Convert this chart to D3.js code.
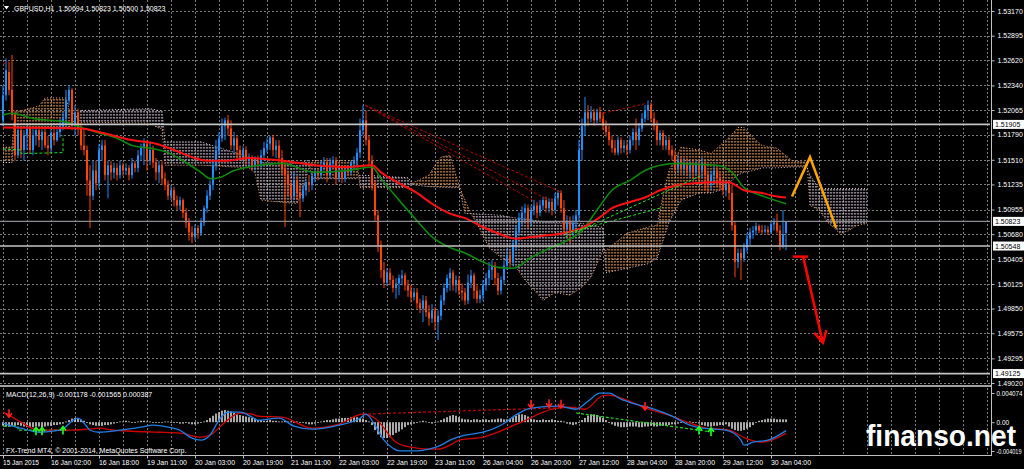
<!DOCTYPE html>
<html><head><meta charset="utf-8">
<script src="https://cdn.jsdelivr.net/npm/d3@7/dist/d3.min.js"></script>
<style>
html,body{margin:0;padding:0;background:#000;overflow:hidden;}
svg{display:block;}
</style></head><body>
<svg id="chart" width="1024" height="469"></svg>
<script>
// ---------------- DATA ----------------
const symbolHeader = "GBPUSD,H1  1.50694 1.50823 1.50500 1.50823";
const macdHeader = "MACD(12,26,9) -0.001178 -0.001565 0.000387";
const copyright = "FX-Trend MT4, \u00A9 2001-2014, MetaQuotes Software Corp.";
const watermark = "finanso.net";

const timeLabels = ["15 Jan 2015","16 Jan 02:00","16 Jan 18:00","19 Jan 11:00","20 Jan 03:00","20 Jan 19:00","21 Jan 11:00","22 Jan 03:00","22 Jan 19:00","23 Jan 11:00","26 Jan 04:00","26 Jan 20:00","27 Jan 12:00","28 Jan 04:00","28 Jan 20:00","29 Jan 12:00","30 Jan 04:00"];
const timeLabelBars = [0,16,32,48,64,80,96,112,128,144,160,176,192,208,224,240,256];
const priceTicks = [1.53170,1.52895,1.52620,1.52340,1.52065,1.51790,1.51510,1.51235,1.50955,1.50680,1.50405,1.50125,1.49850,1.49575,1.49295,1.49020];
const levelPrices = [1.51905,1.50548,1.49125];
const bidPrice = 1.50823;
const macdTicks = [0.004074,0,-0.004019];
const macdTickLabels = ["0.004074","0.00","-0.004019"];

const opens = [1.5195,1.5223,1.5249,1.5229,1.5201,1.5156,1.5184,1.5162,1.5178,1.5186,
1.5162,1.5178,1.5184,1.5173,1.5182,1.5167,1.5164,1.5181,1.5173,1.5182,
1.5189,1.5197,1.5217,1.5229,1.5189,1.5204,1.5186,1.5167,1.5162,1.5128,
1.5111,1.5139,1.5125,1.5162,1.5167,1.5134,1.5145,1.5137,1.5142,1.5134,
1.5145,1.5139,1.5142,1.5134,1.5147,1.5142,1.5156,1.5164,1.5169,1.5150,
1.5162,1.5148,1.5137,1.5145,1.5130,1.5123,1.5111,1.5117,1.5106,1.5100,
1.5106,1.5092,1.5081,1.5070,1.5065,1.5075,1.5069,1.5081,1.5097,1.5111,
1.5123,1.5145,1.5162,1.5175,1.5189,1.5195,1.5186,1.5167,1.5175,1.5162,
1.5156,1.5162,1.5150,1.5153,1.5145,1.5150,1.5147,1.5156,1.5164,1.5169,
1.5176,1.5162,1.5167,1.5153,1.5142,1.5134,1.5123,1.5111,1.5128,1.5115,
1.5108,1.5117,1.5126,1.5123,1.5133,1.5137,1.5134,1.5145,1.5148,1.5134,
1.5147,1.5150,1.5130,1.5137,1.5130,1.5139,1.5137,1.5147,1.5150,1.5159,
1.5184,1.5195,1.5173,1.5150,1.5123,1.5089,1.5056,1.5028,1.5014,1.5025,
1.5017,1.5008,1.5013,1.5019,1.5022,1.5011,1.5005,1.4998,1.5003,1.4991,
1.4985,1.4994,1.4981,1.4974,1.4983,1.4970,1.4977,1.4994,1.5008,1.5019,
1.5025,1.5011,1.5017,1.5005,1.5003,1.4994,1.5014,1.5022,1.5005,1.4996,
1.5000,1.5011,1.5019,1.5028,1.5033,1.5019,1.5005,1.5017,1.5033,1.5044,
1.5037,1.5056,1.5072,1.5086,1.5092,1.5097,1.5081,1.5095,1.5100,1.5092,
1.5100,1.5106,1.5097,1.5104,1.5095,1.5108,1.5114,1.5097,1.5075,1.5083,
1.5072,1.5081,1.5089,1.5162,1.5189,1.5204,1.5197,1.5204,1.5195,1.5204,
1.5197,1.5189,1.5182,1.5173,1.5164,1.5159,1.5173,1.5164,1.5167,1.5162,
1.5173,1.5182,1.5173,1.5186,1.5197,1.5206,1.5212,1.5197,1.5189,1.5173,
1.5181,1.5167,1.5173,1.5162,1.5156,1.5142,1.5150,1.5142,1.5147,1.5139,
1.5145,1.5137,1.5145,1.5139,1.5147,1.5134,1.5123,1.5134,1.5139,1.5130,
1.5123,1.5117,1.5123,1.5114,1.5078,1.5037,1.5047,1.5041,1.5053,1.5063,
1.5070,1.5072,1.5077,1.5072,1.5071,1.5073,1.5070,1.5079,1.5081,1.5072,
1.5056,1.50694];

const closes = [1.5223,1.5251,1.5229,1.5201,1.5156,1.5184,1.5162,1.5178,1.5186,1.5162,
1.5178,1.5184,1.5173,1.5182,1.5167,1.5164,1.5181,1.5173,1.5182,1.5189,
1.5197,1.5217,1.5229,1.5189,1.5204,1.5186,1.5167,1.5162,1.5128,1.5111,
1.5139,1.5125,1.5162,1.5167,1.5134,1.5145,1.5137,1.5142,1.5134,1.5145,
1.5139,1.5142,1.5134,1.5147,1.5142,1.5156,1.5164,1.5169,1.5150,1.5162,
1.5148,1.5137,1.5145,1.5130,1.5123,1.5111,1.5117,1.5106,1.5100,1.5106,
1.5092,1.5081,1.5070,1.5065,1.5075,1.5069,1.5081,1.5097,1.5111,1.5123,
1.5145,1.5162,1.5175,1.5189,1.5195,1.5186,1.5167,1.5175,1.5162,1.5156,
1.5162,1.5150,1.5153,1.5145,1.5150,1.5147,1.5156,1.5164,1.5169,1.5176,
1.5162,1.5167,1.5153,1.5142,1.5134,1.5123,1.5111,1.5128,1.5115,1.5108,
1.5117,1.5126,1.5123,1.5133,1.5137,1.5134,1.5145,1.5148,1.5134,1.5147,
1.5150,1.5130,1.5137,1.5130,1.5139,1.5137,1.5147,1.5150,1.5159,1.5184,
1.5195,1.5173,1.5150,1.5123,1.5089,1.5056,1.5028,1.5014,1.5025,1.5017,
1.5008,1.5013,1.5019,1.5022,1.5011,1.5005,1.4998,1.5003,1.4991,1.4985,
1.4994,1.4981,1.4974,1.4983,1.4970,1.4977,1.4994,1.5008,1.5019,1.5025,
1.5011,1.5017,1.5005,1.5003,1.4994,1.5014,1.5022,1.5005,1.4996,1.5000,
1.5011,1.5019,1.5028,1.5033,1.5019,1.5005,1.5017,1.5033,1.5044,1.5037,
1.5056,1.5072,1.5086,1.5092,1.5097,1.5081,1.5095,1.5100,1.5092,1.5100,
1.5106,1.5097,1.5104,1.5095,1.5108,1.5114,1.5097,1.5075,1.5083,1.5072,
1.5081,1.5089,1.5162,1.5189,1.5204,1.5197,1.5204,1.5195,1.5204,1.5197,
1.5189,1.5182,1.5173,1.5164,1.5159,1.5173,1.5164,1.5167,1.5162,1.5173,
1.5182,1.5173,1.5186,1.5197,1.5206,1.5212,1.5197,1.5189,1.5173,1.5181,
1.5167,1.5173,1.5162,1.5156,1.5142,1.5150,1.5142,1.5147,1.5139,1.5145,
1.5137,1.5145,1.5139,1.5147,1.5134,1.5123,1.5134,1.5139,1.5130,1.5123,
1.5117,1.5123,1.5114,1.5078,1.5037,1.5047,1.5041,1.5053,1.5063,1.5070,
1.5072,1.5077,1.5072,1.5071,1.5073,1.5070,1.5079,1.5081,1.5072,1.5056,
1.5068,1.50823];

const highs = [1.5234,1.5264,1.5260,1.5268,1.5206,1.5189,1.5187,1.5184,1.5189,1.5189,
1.5186,1.5187,1.5186,1.5185,1.5186,1.5178,1.5186,1.5186,1.5186,1.5197,
1.5204,1.5229,1.5234,1.5231,1.5212,1.5208,1.5193,1.5184,1.5167,1.5145,
1.5150,1.5150,1.5169,1.5173,1.5173,1.5150,1.5150,1.5148,1.5147,1.5150,
1.5148,1.5147,1.5145,1.5153,1.5150,1.5162,1.5169,1.5175,1.5173,1.5171,
1.5167,1.5153,1.5150,1.5150,1.5137,1.5128,1.5123,1.5121,1.5111,1.5110,
1.5108,1.5097,1.5086,1.5077,1.5079,1.5078,1.5086,1.5100,1.5117,1.5128,
1.5150,1.5173,1.5182,1.5197,1.5198,1.5201,1.5195,1.5182,1.5178,1.5167,
1.5166,1.5166,1.5158,1.5156,1.5155,1.5156,1.5162,1.5171,1.5175,1.5178,
1.5179,1.5173,1.5173,1.5162,1.5150,1.5139,1.5128,1.5137,1.5133,1.5123,
1.5123,1.5130,1.5134,1.5137,1.5142,1.5142,1.5150,1.5154,1.5153,1.5153,
1.5155,1.5154,1.5142,1.5142,1.5144,1.5145,1.5150,1.5155,1.5164,1.5197,
1.5212,1.5206,1.5178,1.5156,1.5128,1.5095,1.5061,1.5037,1.5030,1.5030,
1.5022,1.5019,1.5023,1.5028,1.5025,1.5017,1.5011,1.5008,1.5008,1.4996,
1.5000,1.4999,1.4989,1.4990,1.4987,1.4983,1.5000,1.5013,1.5023,1.5030,
1.5028,1.5022,1.5021,1.5013,1.5008,1.5023,1.5028,1.5025,1.5011,1.5006,
1.5017,1.5025,1.5037,1.5039,1.5037,1.5025,1.5021,1.5039,1.5052,1.5050,
1.5061,1.5078,1.5092,1.5099,1.5102,1.5101,1.5100,1.5106,1.5104,1.5106,
1.5110,1.5110,1.5108,1.5108,1.5114,1.5117,1.5117,1.5106,1.5089,1.5088,
1.5089,1.5095,1.5173,1.5197,1.5221,1.5212,1.5211,1.5208,1.5208,1.5210,
1.5204,1.5195,1.5189,1.5178,1.5173,1.5177,1.5176,1.5173,1.5173,1.5178,
1.5186,1.5197,1.5192,1.5203,1.5212,1.5217,1.5215,1.5204,1.5195,1.5184,
1.5184,1.5178,1.5177,1.5167,1.5162,1.5156,1.5155,1.5153,1.5153,1.5150,
1.5150,1.5150,1.5150,1.5153,1.5150,1.5139,1.5139,1.5145,1.5145,1.5137,
1.5130,1.5128,1.5128,1.5123,1.5083,1.5052,1.5052,1.5058,1.5069,1.5075,
1.5077,1.5081,1.5079,1.5078,1.5078,1.5077,1.5083,1.5086,1.5091,1.5078,
1.5095,1.50823];

const lows = [1.5189,1.5217,1.5223,1.5195,1.5150,1.5153,1.5153,1.5150,1.5162,1.5158,
1.5156,1.5167,1.5165,1.5162,1.5164,1.5156,1.5159,1.5167,1.5171,1.5176,
1.5184,1.5189,1.5212,1.5184,1.5178,1.5178,1.5162,1.5156,1.5111,1.5075,
1.5106,1.5117,1.5119,1.5150,1.5128,1.5108,1.5128,1.5130,1.5128,1.5130,
1.5133,1.5134,1.5128,1.5130,1.5137,1.5137,1.5150,1.5145,1.5139,1.5145,
1.5142,1.5128,1.5125,1.5123,1.5117,1.5106,1.5106,1.5099,1.5095,1.5095,
1.5086,1.5075,1.5061,1.5058,1.5061,1.5063,1.5066,1.5077,1.5092,1.5106,
1.5117,1.5139,1.5156,1.5171,1.5173,1.5178,1.5162,1.5159,1.5153,1.5150,
1.5150,1.5145,1.5143,1.5139,1.5139,1.5142,1.5142,1.5150,1.5159,1.5162,
1.5155,1.5153,1.5145,1.5134,1.5076,1.5111,1.5106,1.5106,1.5106,1.5087,
1.5104,1.5111,1.5115,1.5117,1.5126,1.5128,1.5130,1.5139,1.5126,1.5130,
1.5142,1.5123,1.5126,1.5125,1.5126,1.5133,1.5134,1.5142,1.5145,1.5153,
1.5178,1.5167,1.5145,1.5117,1.5083,1.5048,1.5019,1.5008,1.5010,1.5011,
1.5003,1.4996,1.5000,1.5011,1.5005,1.4998,1.4992,1.4994,1.4985,1.4980,
1.4970,1.4976,1.4966,1.4969,1.4961,1.4950,1.4972,1.4989,1.5003,1.5005,
1.5005,1.5003,1.5000,1.4994,1.4989,1.4990,1.5008,1.4996,1.4991,1.4991,
1.4994,1.5005,1.5011,1.5017,1.5011,1.5000,1.5001,1.5012,1.5028,1.5030,
1.5032,1.5050,1.5067,1.5078,1.5083,1.5075,1.5077,1.5089,1.5086,1.5088,
1.5095,1.5092,1.5092,1.5089,1.5092,1.5100,1.5092,1.5070,1.5067,1.5058,
1.5067,1.5075,1.5083,1.5150,1.5178,1.5189,1.5193,1.5189,1.5192,1.5193,
1.5184,1.5177,1.5167,1.5159,1.5156,1.5156,1.5158,1.5159,1.5156,1.5158,
1.5167,1.5162,1.5167,1.5182,1.5193,1.5195,1.5193,1.5184,1.5167,1.5167,
1.5162,1.5162,1.5156,1.5150,1.5137,1.5136,1.5135,1.5134,1.5133,1.5131,
1.5130,1.5133,1.5128,1.5130,1.5117,1.5115,1.5117,1.5123,1.5121,1.5117,
1.5111,1.5110,1.5106,1.5072,1.5020,1.5030,1.5017,1.5037,1.5048,1.5056,
1.5063,1.5067,1.5069,1.5068,1.5069,1.5067,1.5068,1.5072,1.5069,1.5050,
1.5052,1.50500];

// moving averages: [bar, price]
const maRed = [[0,1.5187],[26,1.5186],[32,1.5182],[43,1.5173],[51,1.5169],[57,1.5162],[63,1.5154],[68,1.5150],[75,1.5150],[82,1.5153],[93,1.5150],[104,1.5145],[115,1.5143],[123,1.5145],[126,1.5137],[132,1.5125],[138,1.5114],[143,1.5102],[149,1.5091],[154,1.5086],[160,1.5076],[165,1.5069],[171,1.5063],[176,1.5065],[182,1.5067],[188,1.5070],[193,1.5075],[199,1.5087],[203,1.5097],[209,1.5104],[214,1.5109],[219,1.5117],[225,1.5123],[231,1.5125],[236,1.5126],[242,1.5126],[244,1.5123],[247,1.5117],[253,1.5114],[258,1.5110],[261,1.5109]];
const maGreen = [[0,1.5201],[3,1.5203],[10,1.5197],[21,1.5193],[27,1.5186],[32,1.5181],[38,1.5175],[43,1.5167],[49,1.5164],[55,1.5159],[60,1.5150],[66,1.5137],[69,1.5130],[72,1.5131],[77,1.5139],[82,1.5143],[93,1.5147],[104,1.5137],[115,1.5139],[123,1.5143],[126,1.5130],[132,1.5106],[138,1.5083],[143,1.5065],[149,1.5053],[154,1.5047],[160,1.5037],[165,1.5031],[170,1.5030],[176,1.5042],[182,1.5052],[188,1.5061],[193,1.5072],[198,1.5095],[203,1.5117],[209,1.5128],[214,1.5139],[219,1.5145],[225,1.5147],[231,1.5146],[238,1.5145],[243,1.5137],[247,1.5120],[253,1.5111],[261,1.5102]];

// Ichimoku senkou spans (shifted 26 bars forward): [bar, price]
const spanA = [[0,1.5165],[3,1.5165],[4,1.5204],[12,1.5211],[14,1.5220],[21,1.5220],[22,1.5208],[26,1.5193],[49,1.5192],[52,1.5186],[53,1.5186],[54,1.5145],[66,1.5145],[82,1.5142],[84,1.5136],[86,1.5106],[98,1.5102],[100,1.5117],[101,1.5131],[103,1.5150],[118,1.5150],[119,1.5120],[135,1.5120],[137,1.5126],[142,1.5134],[144,1.5145],[146,1.5154],[149,1.5156],[150,1.5145],[152,1.5123],[153,1.5114],[154,1.5106],[156,1.5091],[158,1.5080],[162,1.5053],[166,1.5042],[171,1.5031],[174,1.5017],[178,1.5002],[180,1.4994],[184,1.5003],[189,1.5000],[193,1.5009],[196,1.5020],[199,1.5042],[200,1.5050],[201,1.5050],[208,1.5069],[215,1.5076],[218,1.5078],[220,1.5111],[222,1.5139],[226,1.5165],[232,1.5162],[236,1.5158],[239,1.5167],[242,1.5176],[245,1.5187],[247,1.5187],[250,1.5176],[253,1.5167],[258,1.5164],[263,1.5150],[268,1.5148],[269,1.5100],[272,1.5095],[275,1.5081],[279,1.5069],[282,1.5072],[284,1.5077],[288,1.5080]];
const spanB = [[0,1.5148],[3,1.5148],[4,1.5187],[22,1.5187],[26,1.5206],[49,1.5208],[52,1.5206],[53,1.5206],[54,1.5171],[66,1.5171],[82,1.5154],[84,1.5153],[86,1.5148],[98,1.5147],[100,1.5148],[101,1.5150],[102,1.5150],[103,1.5130],[118,1.5130],[119,1.5134],[135,1.5131],[137,1.5123],[142,1.5121],[149,1.5120],[152,1.5120],[153,1.5106],[154,1.5091],[156,1.5091],[162,1.5090],[166,1.5089],[171,1.5086],[174,1.5085],[178,1.5083],[180,1.5082],[184,1.5081],[193,1.5080],[196,1.5078],[199,1.5076],[200,1.5076],[201,1.5025],[208,1.5030],[215,1.5035],[218,1.5041],[220,1.5061],[222,1.5081],[226,1.5106],[232,1.5114],[236,1.5114],[239,1.5117],[242,1.5125],[245,1.5134],[247,1.5137],[250,1.5139],[253,1.5142],[258,1.5142],[263,1.5143],[268,1.5143],[269,1.5134],[272,1.5119],[288,1.5119]];

// drawn objects: [bar, price]
const redTrendLines = [
  [[120.7,1.5212],[186,1.5115]],
  [[120.7,1.5212],[181.3,1.5107]],
  [[120.7,1.5212],[177,1.5105]],
  [[200,1.5203],[214.5,1.5214]],
  [[0,1.5258],[2,1.5261]]
];
const greenDashLines = [
  [[0,1.5163],[6,1.5162],[6,1.5158],[20,1.5159],[20,1.5178]],
  [[187.5,1.5065],[232.5,1.5133]],
  [[187.5,1.5069],[220,1.5098]]
];
const forecastZigzag = [[263,1.5110],[269,1.5154],[277.7,1.5075]];
const forecastArrowBar = [[263.3,1.5043],[268.3,1.5043]];
const forecastArrowShaft = [[266.7,1.5043],[273.3,1.4947]];

// MACD: [bar, value]
const macdMain = [[0,-0.00014],[2,-0.00042],[6,-0.00084],[12,-0.0014],[19,-0.00112],[25,0.00056],[27,-0.00014],[29,-0.00112],[32,-0.0014],[39,-0.00112],[46,-0.0007],[50,-0.00042],[55,-0.0007],[59,-0.00112],[63,-0.00223],[66,-0.00251],[69,-0.00181],[72,0.00028],[75,0.0014],[79,0.0014],[83,0.0007],[85,0.00028],[92,0.00056],[97,-0.00056],[103,-0.00098],[112,-0.00042],[119,0.00056],[121,0.00112],[124,-0.00042],[127,-0.00251],[130,-0.00363],[132,-0.004],[138,-0.004],[142,-0.00377],[146,-0.00321],[149,-0.00251],[154,-0.00181],[160,-0.0014],[166,-0.00042],[172,0.00126],[176,0.00195],[185,0.00223],[191,0.00181],[195,0.00293],[199,0.00405],[202,0.00405],[206,0.00321],[211,0.00251],[217,0.00181],[223,0.00084],[229,-0.00042],[233,-0.00084],[241,-0.00112],[246,-0.00251],[247,-0.0032],[250,-0.00279],[255,-0.00251],[261,-0.001178]];
const macdSignal = [[0,0.0014],[2,0.00098],[6,0],[12,-0.00112],[21,-0.00112],[28,-0.00098],[32,-0.00084],[37,-0.00112],[43,-0.00126],[52,-0.0014],[59,-0.00153],[66,-0.00209],[69,-0.00181],[74,0],[79,0.00126],[83,0.00112],[85,0.00084],[93,0.0007],[103,-0.00084],[112,-0.00028],[120,0.00112],[124,0.00056],[131,-0.00279],[136,-0.00349],[142,-0.00377],[145,-0.00377],[149,-0.00321],[152,-0.00251],[160,-0.00209],[172,-0.00014],[183,0.00181],[188,0.00209],[194,0.00181],[200,0.0037],[202,0.00377],[207,0.00321],[214,0.002],[223,0.00084],[229,-0.00014],[234,-0.00078],[242,-0.00112],[248,-0.00232],[253,-0.00279],[261,-0.001565]];
const macdHist = [-0.0005,-0.0006,-0.0006,-0.0005,-0.0005,-0.0004,
-0.0005,-0.0006,-0.0007,-0.0007,-0.0007,-0.0006,-0.0006,-0.0007,-0.0006,-0.0005,-0.0005,-0.0004,-0.0004,-0.0003,-0.0002,
0.0001,0.0003,0.0005,0.0006,0.0005,0.0004,0.0002,
-0.0001,-0.0003,-0.0004,-0.0005,-0.0005,-0.0005,-0.0004,-0.0004,-0.0003,-0.0002,
-0.0001,0.0001,0.0001,0.0002,0.0001,0,-0.0001,0.0001,0.0002,0.0002,0.0001,0.0001,0,-0.0001,-0.0001,0,0.0001,0.0001,0,-0.0001,-0.0001,-0.0002,-0.0002,-0.0001,-0.0002,
-0.0003,-0.0003,-0.0002,-0.0001,0.0001,
0.0003,0.0006,0.0009,0.0012,0.0014,0.0016,0.0017,0.0016,0.0015,0.0013,0.0011,
0.0010,0.0009,0.0008,0.0007,0.0006,0.0005,
0.0003,0.0003,0.0002,0.0002,0.0003,0.0002,0.0002,
0.0001,0.0001,0.0002,0.0001,0.0001,0,0.0001,0,-0.0001,
-0.0002,-0.0003,-0.0003,-0.0002,-0.0001,
0.0001,0.0002,0.0003,0.0003,0.0004,0.0005,0.0005,0.0006,0.0006,0.0006,0.0007,0.0007,0.0007,0.0006,
0.0005,0.0003,0.0001,
-0.0004,-0.0011,-0.0017,-0.0021,-0.0022,-0.0022,-0.0021,-0.0018,-0.0015,-0.0013,-0.0010,-0.0007,-0.0004,-0.0003,
-0.0002,-0.0001,0.0001,0.0002,0.0001,-0.0001,-0.0002,-0.0001,0.0001,
0.0003,0.0005,0.0007,0.0009,0.0010,0.0009,0.0007,0.0005,
0.0004,0.0004,0.0003,0.0004,0.0004,0.0003,0.0004,0.0004,0.0003,0.0004,0.0004,0.0005,0.0005,0.0004,0.0004,0.0005,
0.0007,0.0009,0.0011,0.0011,0.0010,0.0008,
0.0005,0.0004,0.0003,0.0003,0.0004,0.0003,0.0003,0.0004,0.0003,0.0002,0.0002,0.0001,
-0.0002,-0.0003,-0.0004,-0.0003,-0.0001,
0.0003,0.0006,0.0009,0.0011,0.0011,0.0010,0.0008,0.0006,0.0003,
-0.0001,-0.0003,-0.0005,-0.0006,-0.0007,-0.0007,-0.0007,-0.0006,-0.0006,-0.0006,-0.0007,-0.0007,-0.0006,-0.0006,-0.0005,-0.0006,-0.0006,-0.0005,-0.0005,-0.0004,-0.0004,-0.0003,-0.0003,-0.0002,-0.0001,-0.0001,
0,0.0001,0,-0.0001,-0.0002,
-0.0004,-0.0005,-0.0006,-0.0006,-0.0005,-0.0005,-0.0004,-0.0004,-0.0003,
-0.0006,-0.0009,-0.0011,-0.0012,-0.0012,-0.0011,-0.0009,-0.0007,-0.0004,-0.0001,
0.0002,0.0003,0.0004,0.0005,0.0005,0.0005,0.0004,0.0004,0.0004,0.000387];
const macdSellArrows = [[2,0.0007],[176,0.0020],[182,0.0021],[186,0.0020],[214,0.0017]];
const macdBuyArrows = [[11,-0.0007],[13,-0.0007],[20,-0.0006],[232,-0.0006],[236,-0.0008]];
const macdRedDash = [[120,0.00112],[192,0.0021]];
const macdGreenDash = [[[191,0.00128],[236,-0.00135]],[[0,-0.00056],[5,-0.00056],[5,-0.00112],[20,-0.00112]]];

// ---------------- DRAWING ----------------
const FONT = "'Liberation Sans', Arial, sans-serif";
const svg = d3.select('#chart');
svg.append('rect').attr('width',1024).attr('height',469).attr('fill','#000');
const AXIS_X = 991, MAIN_BOT = 384, MACD_TOP = 388, MACD_BOT = 455;
const x = d3.scaleLinear().domain([0,328]).range([3,987]);
const y = d3.scaleLinear().domain([1.49020,1.53170]).range([383,11]);
const ym = d3.scaleLinear().domain([-0.004019,0.004074]).range([451,393]);
const bull = '#1e90ff', bear = '#ff4500';

const defs = svg.append('defs');
defs.append('clipPath').attr('id','clipMain').append('rect').attr('x',0).attr('y',0).attr('width',AXIS_X-1).attr('height',MAIN_BOT);
defs.append('clipPath').attr('id','clipMacd').append('rect').attr('x',0).attr('y',MACD_TOP).attr('width',AXIS_X-1).attr('height',MACD_BOT-MACD_TOP);
function hatch(id,color){
  const p = defs.append('pattern').attr('id',id).attr('patternUnits','userSpaceOnUse')
    .attr('width',3).attr('height',3).attr('x',x(0)-0.6).attr('y',0);
  p.append('rect').attr('width',1.3).attr('height',1.6).attr('fill',color);
}
hatch('hSandy','#f4a460'); hatch('hThistle','#e0cce0');
const areaBelow = d3.area().x(d=>x(d[0])).y0(MAIN_BOT).y1(d=>y(d[1]));
const areaAbove = d3.area().x(d=>x(d[0])).y0(0).y1(d=>y(d[1]));
defs.append('clipPath').attr('id','belowA').append('path').attr('d',areaBelow(spanA));
defs.append('clipPath').attr('id','aboveB').append('path').attr('d',areaAbove(spanB));
defs.append('clipPath').attr('id','belowB').append('path').attr('d',areaBelow(spanB));
defs.append('clipPath').attr('id','aboveA').append('path').attr('d',areaAbove(spanA));

// grid
const gridIdx = d3.range(0,329,8);
const grid = svg.append('g').attr('stroke','#7a7a7a').attr('stroke-width',1).attr('stroke-dasharray','2,2');
grid.selectAll('.hg').data(priceTicks).join('line').attr('class','hg')
  .attr('x1',0).attr('x2',AXIS_X-1).attr('y1',d=>Math.round(y(d))+0.5).attr('y2',d=>Math.round(y(d))+0.5);
grid.selectAll('.vg').data(gridIdx).join('line').attr('class','vg')
  .attr('x1',d=>Math.round(x(d))+0.5).attr('x2',d=>Math.round(x(d))+0.5).attr('y1',0).attr('y2',MAIN_BOT);
grid.selectAll('.vg2').data(gridIdx).join('line').attr('class','vg2')
  .attr('x1',d=>Math.round(x(d))+0.5).attr('x2',d=>Math.round(x(d))+0.5).attr('y1',MACD_TOP).attr('y2',MACD_BOT);

const main = svg.append('g').attr('clip-path','url(#clipMain)');
// Ichimoku cloud hatch
main.append('g').attr('clip-path','url(#belowA)').append('rect').attr('clip-path','url(#aboveB)')
  .attr('x',0).attr('y',0).attr('width',AXIS_X).attr('height',MAIN_BOT).attr('fill','url(#hSandy)');
main.append('g').attr('clip-path','url(#belowB)').append('rect').attr('clip-path','url(#aboveA)')
  .attr('x',0).attr('y',0).attr('width',AXIS_X).attr('height',MAIN_BOT).attr('fill','url(#hThistle)');
const lineP = d3.line().x(d=>x(d[0])).y(d=>y(d[1]));
main.append('path').attr('d',lineP(spanA)).attr('fill','none').attr('stroke','#f4a460').attr('stroke-width',1).attr('stroke-dasharray','1,2');
main.append('path').attr('d',lineP(spanB)).attr('fill','none').attr('stroke','#d8bfd8').attr('stroke-width',1).attr('stroke-dasharray','1,2');

// candles
const bars = d3.range(closes.length);
const col = i => closes[i] >= opens[i] ? bull : bear;
main.selectAll('.wick').data(bars).join('rect').attr('class','wick')
  .attr('x',i=>x(i)-0.5).attr('width',1)
  .attr('y',i=>y(highs[i])).attr('height',i=>Math.max(1,y(lows[i])-y(highs[i])))
  .attr('fill',col);
main.selectAll('.body').data(bars).join('rect').attr('class','body')
  .attr('x',i=>x(i)-1).attr('width',2)
  .attr('y',i=>y(Math.max(opens[i],closes[i])))
  .attr('height',i=>Math.max(1,Math.abs(y(opens[i])-y(closes[i]))))
  .attr('fill',col);

// moving averages
const lineS = d3.line().x(d=>x(d[0])).y(d=>y(d[1])).curve(d3.curveMonotoneX);
main.append('path').attr('d',lineS(maGreen)).attr('fill','none').attr('stroke','#0a8a0a').attr('stroke-width',1.6);
main.append('path').attr('d',lineS(maRed)).attr('fill','none').attr('stroke','#ff1010').attr('stroke-width',2);

// trend objects
redTrendLines.forEach(l=>main.append('path').attr('d',lineP(l)).attr('fill','none').attr('stroke','#b00000').attr('stroke-width',1).attr('stroke-dasharray','3,2'));
greenDashLines.forEach(l=>main.append('path').attr('d',lineP(l)).attr('fill','none').attr('stroke','#22e022').attr('stroke-width',1).attr('stroke-dasharray','3,2'));

// horizontal levels
main.selectAll('.lvl').data(levelPrices).join('line').attr('class','lvl')
  .attr('x1',0).attr('x2',AXIS_X).attr('y1',d=>y(d)).attr('y2',d=>y(d))
  .attr('stroke','#c4c4c4').attr('stroke-width',1.6);
main.append('line').attr('x1',0).attr('x2',AXIS_X).attr('y1',y(bidPrice)).attr('y2',y(bidPrice))
  .attr('stroke','#8c8c94').attr('stroke-width',1.4);

// forecast
main.append('path').attr('d',lineP(forecastZigzag)).attr('fill','none').attr('stroke','#ffa500').attr('stroke-width',2.5).attr('stroke-linejoin','miter');
main.append('path').attr('d',lineP(forecastArrowBar)).attr('fill','none').attr('stroke','#ff0000').attr('stroke-width',2.5);
main.append('path').attr('d',lineP(forecastArrowShaft)).attr('fill','none').attr('stroke','#ff0000').attr('stroke-width',2.5);
{
  const p0 = forecastArrowShaft[0], p1 = forecastArrowShaft[1];
  const tx = x(p1[0]), ty = y(p1[1]);
  const ang = Math.atan2(ty - y(p0[1]), tx - x(p0[0]));
  const L = 13, spread = 0.5;
  const a1 = [tx - L*Math.cos(ang-spread), ty - L*Math.sin(ang-spread)];
  const a2 = [tx - L*Math.cos(ang+spread), ty - L*Math.sin(ang+spread)];
  main.append('path').attr('d',`M${a1[0]},${a1[1]}L${tx},${ty}L${a2[0]},${a2[1]}`)
    .attr('fill','none').attr('stroke','#ff0000').attr('stroke-width',2.5);
}

// ---------------- MACD panel ----------------
const macd = svg.append('g').attr('clip-path','url(#clipMacd)');
macd.selectAll('.hist').data(bars).join('rect').attr('class','hist')
  .attr('x',i=>x(i)-0.8).attr('width',1.6)
  .attr('y',i=>Math.min(ym(0),ym(macdHist[i])))
  .attr('height',i=>Math.max(0.8,Math.abs(ym(macdHist[i])-ym(0))))
  .attr('fill','#d4d4d4');
const lineM = d3.line().x(d=>x(d[0])).y(d=>ym(d[1])).curve(d3.curveMonotoneX);
const lineMs = d3.line().x(d=>x(d[0])).y(d=>ym(d[1]));
macd.append('path').attr('d',lineMs(macdRedDash)).attr('fill','none').attr('stroke','#c00000').attr('stroke-width',1.2).attr('stroke-dasharray','3,2');
macdGreenDash.forEach(l=>macd.append('path').attr('d',lineMs(l)).attr('fill','none').attr('stroke','#22dd22').attr('stroke-width',1.2).attr('stroke-dasharray','3,2'));
macd.append('path').attr('d',lineM(macdSignal)).attr('fill','none').attr('stroke','#d40000').attr('stroke-width',1.3);
macd.append('path').attr('d',lineM(macdMain)).attr('fill','none').attr('stroke','#1e7fe8').attr('stroke-width',1.3);
function arrow(g,cx,tip,dir,color){
  const h = 8;
  g.append('path').attr('d',`M${cx},${tip - dir*h}L${cx},${tip}M${cx-3},${tip - dir*4}L${cx},${tip}L${cx+3},${tip - dir*4}`)
    .attr('fill','none').attr('stroke',color).attr('stroke-width',1.6);
}
macdSellArrows.forEach(d=>arrow(macd,x(d[0]),ym(d[1]),1,'#ff2020'));
macdBuyArrows.forEach(d=>arrow(macd,x(d[0]),ym(d[1]),-1,'#22ff22'));

// ---------------- separators & axes ----------------
svg.append('line').attr('x1',0).attr('x2',AXIS_X).attr('y1',386).attr('y2',386).attr('stroke','#a0a0a0').attr('stroke-width',2);
svg.append('line').attr('x1',AXIS_X+0.5).attr('x2',AXIS_X+0.5).attr('y1',0).attr('y2',MACD_BOT).attr('stroke','#c0c0c0');
svg.append('line').attr('x1',0).attr('x2',AXIS_X+1).attr('y1',MACD_BOT+0.5).attr('y2',MACD_BOT+0.5).attr('stroke','#c0c0c0');

function styleAxis(g, fs){
  g.select('.domain').remove();
  g.selectAll('line').attr('stroke','#c0c0c0');
  g.selectAll('text').attr('fill','#ffffff').attr('font-size',fs).attr('font-family',FONT);
  g.attr('font-family',FONT);
}
const axR = svg.append('g').attr('transform',`translate(${AXIS_X+0.5},0)`)
  .call(d3.axisRight(y).tickValues(priceTicks).tickFormat(d3.format('.5f')).tickSize(3).tickPadding(3));
styleAxis(axR, 7);
const axM = svg.append('g').attr('transform',`translate(${AXIS_X+0.5},0)`)
  .call(d3.axisRight(ym).tickValues(macdTicks).tickFormat((d,i)=>macdTickLabels[i]).tickSize(3).tickPadding(2));
styleAxis(axM, 6.5);
axM.selectAll('text').attr('textLength',(d,i)=>i===0?26:(i===2?25:null)).attr('lengthAdjust','spacingAndGlyphs');
const axB = svg.append('g').attr('transform',`translate(0,${MACD_BOT+0.5})`)
  .call(d3.axisBottom(x).tickValues(timeLabelBars).tickFormat((d,i)=>timeLabels[i]).tickSize(3).tickPadding(2));
styleAxis(axB, 7);
axB.selectAll('text').attr('text-anchor','start').attr('x',-0.5)
  .attr('textLength',(d,i)=>i===0?36:40).attr('lengthAdjust','spacingAndGlyphs');

// price label boxes
const boxes = levelPrices.concat([bidPrice]);
const bx = svg.append('g');
bx.selectAll('rect').data(boxes).join('rect')
  .attr('x',AXIS_X+2).attr('width',1024-AXIS_X-2).attr('y',d=>y(d)-4.5).attr('height',9)
  .attr('fill','#ffffff');
bx.selectAll('text').data(boxes).join('text')
  .attr('x',AXIS_X+4).attr('y',d=>y(d)+2.6).text(d=>d3.format('.5f')(d))
  .attr('font-size',7).attr('font-family',FONT).attr('fill','#000');

// header texts
svg.append('path').attr('d','M4,6L9,6L6.5,9.5Z').attr('fill','#ffffff');
svg.append('text').attr('x',14).attr('y',10.5).text(symbolHeader)
  .attr('font-size',7).attr('font-family',FONT).attr('fill','#ffffff').style('white-space','pre');
svg.append('text').attr('x',6).attr('y',396.5).text(macdHeader)
  .attr('font-size',7).attr('font-family',FONT).attr('fill','#ffffff');
svg.append('text').attr('x',6).attr('y',452.5).text(copyright)
  .attr('font-size',7).attr('font-family',FONT).attr('fill','#ffffff');

// watermark
svg.append('text').attr('x',866).attr('y',446).text(watermark)
  .attr('font-size',29).attr('font-weight','bold').attr('font-family',FONT)
  .attr('fill','#ffffff').attr('textLength',150).attr('lengthAdjust','spacingAndGlyphs');
</script>
</body></html>
